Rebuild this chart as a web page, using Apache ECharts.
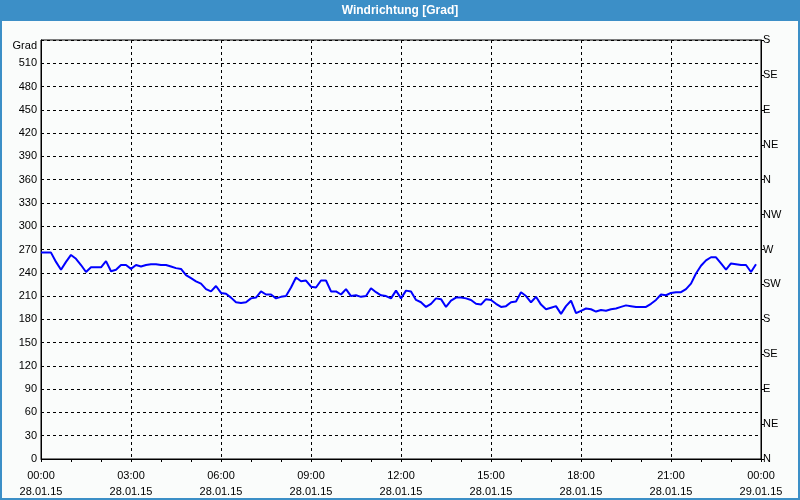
<!DOCTYPE html>
<html>
<head>
<meta charset="utf-8">
<script src="https://cdn.jsdelivr.net/npm/echarts@6/dist/echarts.min.js"></script>
<style>
html,body{margin:0;padding:0;background:#fafcfb;}
#chart{width:800px;height:500px;}
</style>
</head>
<body>
<div id="chart"></div>
<script>
// Wind direction in degrees, one reading every 10 minutes from 00:00 (28.01.15)
const stepHours = 1 / 6;
const windDeg = [
  266,266,266,254,244,254,263,258,250,241,247,247,
  247,255,242,244,250,250,245,250,248,250,251,251,
  250,250,248,246,245,237,233,229,226,219,216,223,
  214,213,208,202,201,202,207,208,216,212,212,207,
  209,210,221,234,229,230,222,221,230,230,216,216,
  212,219,210,211,209,210,220,215,211,210,207,217,
  207,217,216,205,202,196,200,207,206,196,204,208,
  208,207,205,200,199,206,205,200,196,197,202,203,
  215,210,202,209,199,193,195,197,187,197,204,188,
  191,194,193,190,192,191,193,194,196,198,197,196,
  196,196,200,205,212,211,214,215,215,219,226,239,
  249,256,260,260,252,244,252,251,250,250,241,251
];
const xTickTimes = ['00:00','03:00','06:00','09:00','12:00','15:00','18:00','21:00','00:00'];
const xTickDates = ['28.01.15','28.01.15','28.01.15','28.01.15','28.01.15','28.01.15','28.01.15','28.01.15','29.01.15'];
const compassLabels = ['N','NE','E','SE','S','SW','W','NW','N','NE','E','SE','S'];
const chartTitle = 'Windrichtung [Grad]';
const unitLabel = 'Grad';

const seriesData = windDeg.map((v, i) => [i * stepHours, v]);
const FONT = 'Liberation Sans';
const dash = { color: '#000', width: 1, type: [3, 3] };

const chart = echarts.init(document.getElementById('chart'), null, { renderer: 'canvas' });
chart.setOption({
  animation: false,
  backgroundColor: '#fafcfb',
  textStyle: { fontFamily: FONT },
  grid: { left: 41, right: 39, top: 40, bottom: 40, show: true, borderColor: '#000', borderWidth: 1 },
  graphic: [
    { type: 'rect', shape: { x: 0, y: 0, width: 800, height: 21 }, style: { fill: '#3c8fc7' }, z: 10 },
    { type: 'text', x: 400, y: 10.5, style: { text: chartTitle, fill: '#fff', font: 'bold 12px "Liberation Sans"', textAlign: 'center', textVerticalAlign: 'middle' }, z: 11 },
    { type: 'rect', shape: { x: 1, y: 1, width: 798, height: 498 }, style: { fill: null, stroke: '#3c8fc7', lineWidth: 2 }, z: 10 },
    { type: 'text', x: 37, y: 46, style: { text: unitLabel, fill: '#000', font: '11px "Liberation Sans"', textAlign: 'right', textVerticalAlign: 'middle' }, z: 11 }
  ],
  xAxis: {
    type: 'value', min: 0, max: 24, interval: 3,
    axisLine: { show: true, lineStyle: { color: '#000', width: 1 } },
    axisTick: { show: true, length: 3, lineStyle: { color: '#000' } },
    minorTick: { show: true, splitNumber: 3, length: 3, lineStyle: { color: '#000' } },
    splitLine: { show: true, lineStyle: dash },
    axisLabel: {
      color: '#000', fontSize: 11, fontFamily: FONT, margin: 9, lineHeight: 16,
      formatter: v => { const i = Math.round(v / 3); return xTickTimes[i] + '\n' + xTickDates[i]; }
    }
  },
  yAxis: [
    {
      type: 'value', min: 0, max: 540, interval: 30, position: 'left',
      axisLine: { show: true, lineStyle: { color: '#000', width: 1 } },
      axisTick: { show: false },
      splitLine: { show: true, lineStyle: dash },
      axisLabel: { color: '#000', fontSize: 11, fontFamily: FONT, margin: 4,
        formatter: v => v === 540 ? '' : String(v) }
    },
    {
      type: 'value', min: 0, max: 540, interval: 45, position: 'right',
      axisLine: { show: true, lineStyle: { color: '#000', width: 1 } },
      axisTick: { show: true, inside: false, length: 3, lineStyle: { color: '#000' } },
      splitLine: { show: false },
      axisLabel: { color: '#000', fontSize: 11, fontFamily: FONT, margin: 2, padding: [6, 0, 0, 0],
        formatter: v => compassLabels[Math.round(v / 45)] }
    }
  ],
  series: [{
    type: 'line', data: seriesData, yAxisIndex: 0, showSymbol: false, smooth: false,
    lineStyle: { color: '#0000ff', width: 2 }, itemStyle: { color: '#0000ff' }, z: 5
  }]
});
</script>
</body>
</html>
